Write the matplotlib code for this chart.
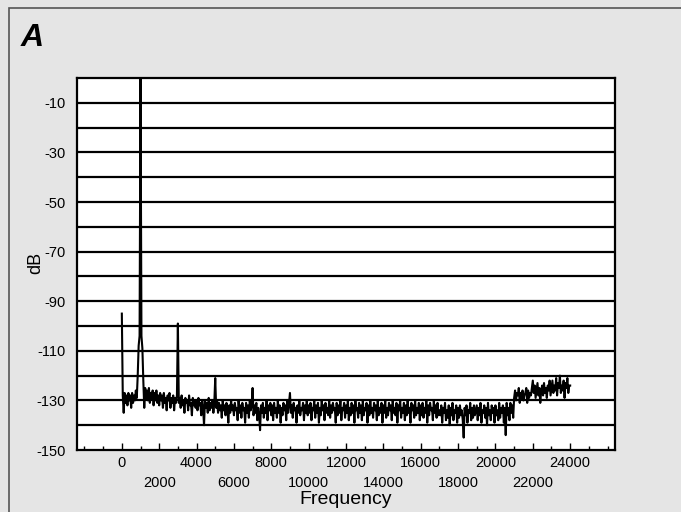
#!/usr/bin/env python
# -*- coding: utf-8 -*-

import matplotlib
matplotlib.use('Agg')
from matplotlib import pyplot as plt
from matplotlib.patches import Rectangle
import numpy as np

plt.rcParams['font.family'] = ['Liberation Sans', 'DejaVu Sans']

# spectrum level (dB), one value every 50 Hz from 0 to 24000 Hz
bin_hz = 50
level_db = [
    # 0 - 950
    -95, -128, -135, -127, -131, -128, -132, -127, -130, -128, -133, -127, -131, -128, -130, -126, -129, -120, -108, -104,
    # 1000 - 1950
    0, -104, -109, -122, -133, -125, -129, -126, -130, -125, -131, -127, -129, -126, -132, -127, -130, -126, -131, -128,
    # 2000
    -132, -127, -130, -128, -133, -127, -131, -129, -134, -128, -130, -127, -133, -129, -131, -128, -134, -129, -131, -128,
    # 3000
    -99, -131, -129, -133, -128, -132, -130, -135, -129, -131, -130, -134, -128, -132, -131, -136, -129, -132, -130, -133,
    # 4000
    -130, -134, -129, -132, -131, -136, -130, -133, -140, -130, -133, -131, -135, -129, -134, -131, -133, -130, -135, -131,
    # 5000
    -121, -133, -130, -135, -131, -134, -132, -137, -130, -134, -132, -136, -131, -133, -139, -132, -135, -130, -134, -132,
    # 6000
    -136, -131, -134, -133, -138, -130, -135, -132, -137, -131, -134, -133, -139, -131, -135, -132, -137, -130, -134, -132,
    # 7000
    -125, -136, -132, -135, -131, -138, -133, -136, -142, -132, -135, -131, -137, -133, -135, -130, -138, -132, -134, -131,
    # 8000
    -136, -132, -138, -131, -135, -133, -137, -130, -135, -132, -139, -133, -136, -131, -134, -132, -138, -130, -135, -131,
    # 9000
    -127, -135, -132, -137, -131, -134, -133, -139, -132, -135, -130, -136, -133, -134, -131, -138, -132, -135, -130, -136,
    # 10000
    -132, -135, -131, -138, -133, -134, -130, -137, -132, -135, -131, -139, -133, -136, -130, -134, -132, -138, -131, -135,
    # 11000
    -133, -136, -130, -137, -132, -135, -131, -134, -133, -139, -131, -136, -132, -135, -130, -138, -133, -134, -131, -137,
    # 12000
    -132, -135, -130, -138, -133, -136, -131, -135, -132, -139, -130, -134, -133, -137, -131, -135, -132, -138, -130, -136,
    # 13000
    -133, -134, -131, -139, -132, -136, -130, -135, -133, -137, -131, -134, -132, -138, -130, -136, -133, -135, -131, -139,
    # 14000
    -132, -135, -130, -137, -133, -136, -131, -134, -132, -138, -130, -135, -133, -136, -131, -139, -132, -134, -130, -137,
    # 15000
    -133, -135, -131, -138, -132, -136, -130, -135, -133, -139, -131, -134, -132, -137, -130, -136, -133, -135, -131, -138,
    # 16000
    -132, -136, -131, -137, -133, -135, -130, -139, -132, -136, -131, -134, -133, -138, -130, -135, -132, -137, -131, -136,
    # 17000
    -134, -136, -132, -139, -133, -135, -131, -138, -134, -137, -132, -140, -133, -136, -131, -138, -134, -135, -132, -139,
    # 18000
    -133, -137, -132, -136, -134, -138, -145, -133, -136, -132, -139, -134, -135, -131, -138, -133, -137, -132, -136, -134,
    # 19000
    -132, -138, -133, -136, -131, -139, -134, -135, -132, -137, -133, -140, -131, -136, -134, -138, -132, -135, -133, -139,
    # 20000
    -132, -136, -134, -138, -131, -137, -133, -135, -132, -139, -133, -144, -131, -136, -133, -138, -131, -135, -132, -137,
    # 21000
    -129, -126, -130, -127, -128, -125, -131, -127, -129, -126, -130, -128, -127, -125, -131, -126, -129, -127, -128, -125,
    # 22000
    -122, -127, -124, -129, -126, -123, -128, -125, -131, -126, -124, -128, -123, -127, -125, -129, -124, -126, -122, -128,
    # 23000
    -125, -122, -127, -124, -126, -121, -128, -123, -125, -120, -127, -124, -126, -122, -129, -123, -125, -121, -127, -124,
    # 24000
    -124,
]
freq_hz = np.arange(len(level_db)) * bin_hz

x_ticks = list(range(0, 24001, 2000))
x_minor = list(range(-2000, 26001, 1000))
y_ticks = list(range(-10, -151, -20))
y_grid = list(range(-140, 0, 10))

bg = '#e5e5e5'
fig = plt.figure(figsize=(6.81, 5.12), dpi=100, facecolor=bg)
fig.patches.append(Rectangle((8.5 / 681, -0.1), 1.2, 1.1 - 7.5 / 512, transform=fig.transFigure,
                             fill=False, edgecolor='#555555', lw=1.2))

ax = fig.add_axes([77 / 681, 1 - 450 / 512, (615 - 77) / 681, (450 - 78) / 512])
ax.set_facecolor('white')

for g in y_grid:
    ax.axhline(g, color='black', lw=1.6, zorder=1)

ax.plot(freq_hz, level_db, color='black', lw=1.5, zorder=3)

ax.set_xlim(-2400, 26400)
ax.set_ylim(-150, 0)

ax.set_xticks(x_ticks)
ax.set_xticklabels([str(t) for t in x_ticks], fontsize=10.5)
ax.set_xticks(x_minor, minor=True)
ax.tick_params(axis='x', which='major', direction='in', length=5, width=1, pad=4)
ax.tick_params(axis='x', which='minor', direction='in', length=3, width=1)
for i, tick in enumerate(ax.xaxis.get_major_ticks()):
    if i % 2 == 1:
        tick.set_pad(19)

ax.set_yticks(y_ticks)
ax.set_yticklabels([str(t) for t in y_ticks], fontsize=10.5)
ax.tick_params(axis='y', length=0, pad=8)

for s in ax.spines.values():
    s.set_linewidth(1.6)
    s.set_color('black')

fig.text(346 / 681, 1 - 500 / 512, 'Frequency', fontsize=14, ha='center', va='center')
fig.text(36 / 681, 1 - 263 / 512, 'dB', fontsize=13, ha='center', va='center', rotation=90)
fig.text(21 / 681, 1 - 46 / 512, 'A', fontsize=23, fontweight='bold', fontstyle='italic',
         ha='left', va='baseline')

fig.savefig('out.png', dpi=100, facecolor=bg)
